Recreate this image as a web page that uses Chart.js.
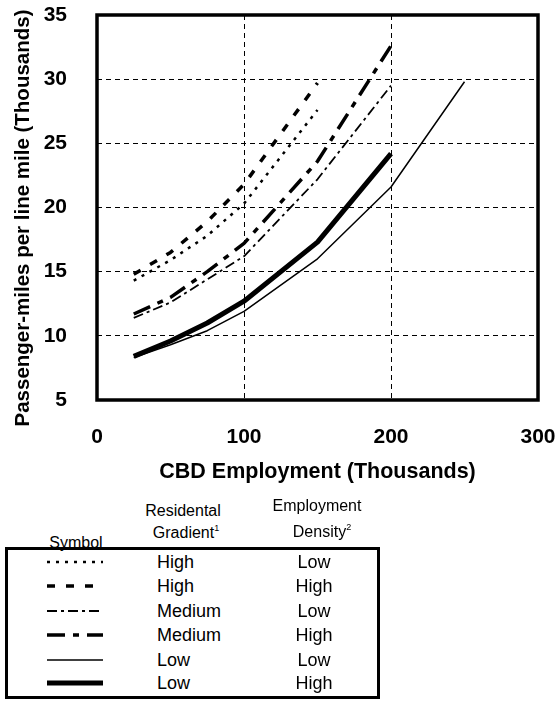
<!DOCTYPE html>
<html>
<head>
<meta charset="utf-8">
<script src="https://cdn.jsdelivr.net/npm/chart.js@4.4.1/dist/chart.umd.min.js"></script>
<style>
  html, body { margin: 0; padding: 0; background: #fff; }
  #wrap { position: relative; width: 557px; height: 702px; font-family: "Liberation Sans", Arial, sans-serif; color: #000; }
  #chart { position: absolute; left: 0; top: 0; }
  .t { position: absolute; transform: translate(-50%, -50%); white-space: nowrap; line-height: 1; }
  .tl { position: absolute; transform: translateY(-50%); white-space: nowrap; line-height: 1; }
  .hd { font-size: 16px; }
  .cell { font-size: 18px; }
  sup { font-size: 9px; vertical-align: 7px; }
  #box { position: absolute; left: 5px; top: 547px; width: 369px; height: 146px; border: 3px solid #000; }
  svg.sym { position: absolute; overflow: visible; }
</style>
</head>
<body>
<div id="wrap">
  <canvas id="chart" width="557" height="500"></canvas>
  <div id="box"></div>
  <div id="legend"></div>
</div>
<script>
// CBD employment (thousands) at which each curve is evaluated
const employment = [25, 50, 75, 100, 150, 200, 250];

// Passenger-miles per line mile (thousands), one series per design case
const highLow    = [14.3, 15.9, 17.8, 20.3, 27.6];
const highHigh   = [14.8, 16.5, 18.9, 21.8, 29.7];
const mediumLow  = [11.4, 12.6, 14.4, 16.2, 22.2, 29.5];
const mediumHigh = [11.7, 13.0, 15.0, 17.2, 23.6, 32.6];
const lowLow     = [8.3, 9.3, 10.4, 11.9, 16.0, 21.6, 29.8];
const lowHigh    = [8.4, 9.6, 11.0, 12.7, 17.3, 24.2];

// Legend table text
const gradientLabels = ['High', 'High', 'Medium', 'Medium', 'Low', 'Low'];
const densityLabels  = ['Low', 'High', 'Low', 'High', 'Low', 'High'];

// Axis ticks and titles
const xTicks = [0, 100, 200, 300];
const yTicks = [5, 10, 15, 20, 25, 30, 35];
const xTitle = 'CBD Employment (Thousands)';
const yTitle = 'Passenger-miles per line mile (Thousands)';

const seriesValues = [highLow, highHigh, mediumLow, mediumHigh, lowLow, lowHigh];

// Line look for each case, in the same order as the legend rows
const lineLooks = [
  { width: 2.5, dash: [3, 6] },
  { width: 3.5, dash: [8, 11] },
  { width: 1.8, dash: [10, 4, 3, 4] },
  { width: 3.5, dash: [18, 8, 6, 8] },
  { width: 1.5, dash: [] },
  { width: 5,   dash: [] }
];

const FONT = '"Liberation Sans", Arial, sans-serif';
const toPoints = vals => vals.map((v, i) => ({ x: employment[i], y: v }));

const datasets = seriesValues.map((vals, i) => ({
  label: gradientLabels[i] + ' / ' + densityLabels[i],
  data: toPoints(vals),
  borderColor: '#000',
  borderWidth: lineLooks[i].width,
  borderDash: lineLooks[i].dash,
  borderCapStyle: 'butt',
  borderJoinStyle: 'round',
  pointRadius: 0,
  tension: 0,
  fill: false
}));

// Heavy frame around the plotting area, plus the vertical axis title
const framePlugin = {
  id: 'frame',
  afterDraw(chart) {
    const { ctx, chartArea: a } = chart;
    ctx.save();
    ctx.strokeStyle = '#000';
    ctx.lineWidth = 3.5;
    ctx.setLineDash([]);
    ctx.strokeRect(a.left, a.top, a.right - a.left, a.bottom - a.top);
    ctx.translate(23, 218);
    ctx.rotate(-Math.PI / 2);
    ctx.fillStyle = '#000';
    ctx.font = 'bold 20.5px ' + FONT;
    ctx.textAlign = 'center';
    ctx.textBaseline = 'middle';
    ctx.fillText(yTitle, 0, 0);
    ctx.restore();
  }
};

const tickFont = { family: FONT, size: 21, weight: 'bold' };

new Chart(document.getElementById('chart'), {
  type: 'line',
  data: { datasets },
  plugins: [framePlugin],
  options: {
    responsive: false,
    animation: false,
    devicePixelRatio: 1,
    layout: { padding: { left: 0, right: 19, top: 15, bottom: 0 } },
    plugins: { legend: { display: false }, tooltip: { enabled: false } },
    scales: {
      x: {
        type: 'linear',
        min: 0, max: 300,
        afterFit(s) { s.height = 100; s.paddingLeft = 0; s.paddingRight = 0; },
        afterBuildTicks(s) { s.ticks = xTicks.map(v => ({ value: v })); },
        ticks: { font: tickFont, color: '#000', padding: 25, maxRotation: 0 },
        grid: { color: '#000', lineWidth: 1, drawTicks: false },
        border: { display: false, dash: [5, 4] },
        title: {
          display: true,
          text: xTitle,
          font: { family: FONT, size: 21.5, weight: 'bold' },
          color: '#000',
          padding: { top: 0, bottom: 15 }
        }
      },
      y: {
        type: 'linear',
        min: 5, max: 35,
        afterFit(s) { s.width = 97; s.paddingTop = 0; s.paddingBottom = 0; },
        afterBuildTicks(s) { s.ticks = yTicks.map(v => ({ value: v })); },
        ticks: { font: tickFont, color: '#000', padding: 30 },
        grid: { color: '#000', lineWidth: 1, drawTicks: false },
        border: { display: false, dash: [5, 4] }
      }
    }
  }
});

// Legend table under the chart
const legend = document.getElementById('legend');
function addText(cls, text, x, y, html) {
  const d = document.createElement('div');
  d.className = cls;
  d.style.left = x + 'px';
  d.style.top = y + 'px';
  if (html) d.innerHTML = text; else d.textContent = text;
  legend.appendChild(d);
}
addText('t hd', 'Symbol', 76, 543);
addText('t hd', 'Residental', 183, 511);
addText('t hd', 'Gradient<sup>1</sup>', 186, 532, true);
addText('t hd', 'Employment', 317, 506);
addText('t hd', 'Density<sup>2</sup>', 322, 531, true);

const rowY = [562, 586, 611, 635, 660, 683];
const svgNS = 'http://www.w3.org/2000/svg';
rowY.forEach((y, i) => {
  const svg = document.createElementNS(svgNS, 'svg');
  svg.setAttribute('class', 'sym');
  svg.setAttribute('width', 56);
  svg.setAttribute('height', 10);
  svg.style.left = '47px';
  svg.style.top = (y - 5) + 'px';
  const ln = document.createElementNS(svgNS, 'line');
  ln.setAttribute('x1', 0); ln.setAttribute('y1', 5);
  ln.setAttribute('x2', 56); ln.setAttribute('y2', 5);
  ln.setAttribute('stroke', '#000');
  ln.setAttribute('stroke-width', lineLooks[i].width);
  if (lineLooks[i].dash.length) ln.setAttribute('stroke-dasharray', lineLooks[i].dash.join(' '));
  svg.appendChild(ln);
  legend.appendChild(svg);

  addText('tl cell', gradientLabels[i], 157, y);
  addText('t cell', densityLabels[i], 314, y);
});
</script>
</body>
</html>
